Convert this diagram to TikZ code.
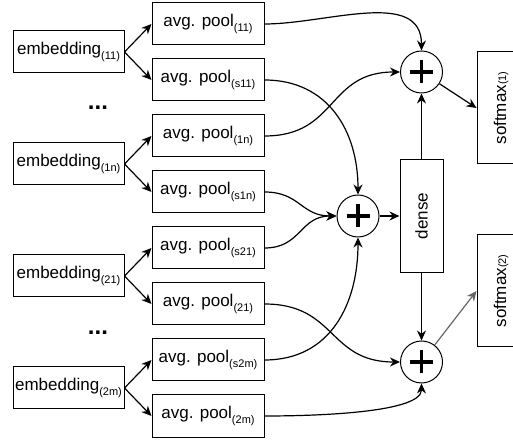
\documentclass[tikz,border=0pt]{standalone}
\usepackage{fontspec}
\setmainfont{Liberation Sans}
\usetikzlibrary{arrows.meta,positioning,calc}
\newcommand{\idx}[1]{\raisebox{-0.5ex}{\fontsize{11}{12}\selectfont(#1)}}
\newcommand{\smidx}[1]{{\fontsize{11}{12}\selectfont(#1)}}

\begin{document}
\begin{tikzpicture}[x=1pt,y=1pt,node distance=13pt,>={Stealth[length=10pt,width=9pt]},font=\fontsize{17}{20}\selectfont]
\tikzstyle{pool}=[draw,line width=1pt,minimum width=112pt,minimum height=42pt,inner sep=2pt]
\tikzstyle{embed}=[draw,line width=1pt,minimum width=111pt,minimum height=42pt,inner sep=2pt]
\tikzstyle{sum}=[draw,circle,line width=1pt,minimum size=42pt,inner sep=0pt,
  path picture={\draw[line width=3.4pt]
    ([xshift=-11.5pt]path picture bounding box.center) -- ([xshift=11.5pt]path picture bounding box.center)
    ([yshift=-11.5pt]path picture bounding box.center) -- ([yshift=11.5pt]path picture bounding box.center);}]
\tikzstyle{vbox}=[draw,line width=1pt,rotate=90,minimum width=112pt,inner sep=2pt]
\tikzstyle{link}=[->,line width=1.2pt]
\useasboundingbox (0,0) rectangle (513,441);

% pooling column
\node[pool] (p11) at (208,417) {avg. pool\idx{11}};
\node[pool,below=of p11] (ps11) {avg. pool\idx{s11}};
\node[pool,below=of ps11] (p1n) {avg. pool\idx{1n}};
\node[pool,below=of p1n] (ps1n) {avg. pool\idx{s1n}};
\node[pool,below=of ps1n] (ps21) {avg. pool\idx{s21}};
\node[pool,below=of ps21] (p21) {avg. pool\idx{21}};
\node[pool,below=of p21] (ps2m) {avg. pool\idx{s2m}};
\node[pool,below=of ps2m] (p2m) {avg. pool\idx{2m}};

% embeddings, each between its two pools
\coordinate (m11) at ($(p11.west)!0.5!(ps11.west)$);
\coordinate (m1n) at ($(p1n.west)!0.5!(ps1n.west)$);
\coordinate (m21) at ($(ps21.west)!0.5!(p21.west)$);
\coordinate (m2m) at ($(ps2m.west)!0.5!(p2m.west)$);
\node[embed,left=27pt of m11] (e11) {embedding\idx{11}};
\node[embed,left=27pt of m1n] (e1n) {embedding\idx{1n}};
\node[embed,left=27pt of m21] (e21) {embedding\idx{21}};
\node[embed,left=27pt of m2m] (e2m) {embedding\idx{2m}};
\node[font=\fontsize{24}{24}\selectfont\bfseries] (dotsA) at (98,333) {...};
\node[font=\fontsize{24}{24}\selectfont\bfseries] (dotsB) at (98,108) {...};

% sums, dense and outputs
\node[sum] (plusA) at (421.5,369) {};
\node[sum] (plusB) at (358,225) {};
\node[sum] (plusC) at (421.5,79) {};
\node[vbox,minimum width=113pt,minimum height=43pt] (dense) at (421.5,225) {dense};
\node[vbox,minimum height=48pt] (sm1) at (501,333) {softmax\smidx{1}};
\node[vbox,minimum height=48pt] (sm2) at (501,150) {softmax\smidx{2}};

\foreach \e/\a/\b in {e11/p11/ps11,e1n/p1n/ps1n,e21/ps21/p21,e2m/ps2m/p2m}{
  \draw[link] (\e.east) -- (\a.west);
  \draw[link] (\e.east) -- (\b.west);
}

\draw[link] (p11.east) to[out=0,in=90] (plusA.north);
\draw[link] (p1n.east) to[out=0,in=180,looseness=1.25] (plusA.west);
\draw[link] (ps11.east) to[out=0,in=90,looseness=1.1] (plusB.north);
\draw[link] (ps1n.east) to[out=0,in=180,looseness=1.2] (plusB.west);
\draw[link] (ps21.east) to[out=0,in=180,looseness=1.2] (plusB.west);
\draw[link] (ps2m.east) to[out=0,in=-90,looseness=1.1] (plusB.south);
\draw[link] (p21.east) to[out=0,in=180,looseness=1.25] (plusC.west);
\draw[link] (p2m.east) to[out=0,in=-90,looseness=0.5] (plusC.south);

\draw[link] (plusB) -- (dense);
\draw[link] (dense) -- (plusA);
\draw[link] (dense) -- (plusC);
\draw[link] (plusA) -- (sm1.north);
\draw[link,black!60] (plusC) -- (sm2.north);
\end{tikzpicture}
\end{document}
